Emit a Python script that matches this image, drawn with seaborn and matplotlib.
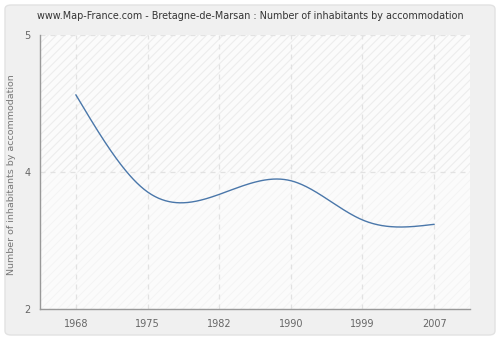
import numpy as np
import pandas as pd
import matplotlib
matplotlib.use("Agg")
import matplotlib.pyplot as plt
import seaborn as sns
from matplotlib.patches import FancyBboxPatch, Rectangle

years = [1968, 1975, 1982, 1990, 1999, 2007]
values = [4.12, 3.34, 3.32, 3.43, 3.115, 3.08]
ytick_pos = [2.4, 3.5, 4.6]
ytick_labels = ["2", "4", "5"]
title = "www.Map-France.com - Bretagne-de-Marsan : Number of inhabitants by accommodation"
ylabel = "Number of inhabitants by accommodation"


def natural_spline(x, y, n=400):
    x = np.asarray(x, float); y = np.asarray(y, float)
    k = len(x)
    h = np.diff(x)
    A = np.zeros((k, k)); b = np.zeros(k)
    A[0, 0] = 1; A[-1, -1] = 1
    for i in range(1, k - 1):
        A[i, i - 1] = h[i - 1]
        A[i, i] = 2 * (h[i - 1] + h[i])
        A[i, i + 1] = h[i]
        b[i] = 3 * ((y[i + 1] - y[i]) / h[i] - (y[i] - y[i - 1]) / h[i - 1])
    c = np.linalg.solve(A, b)
    xs = np.linspace(x[0], x[-1], n)
    ys = np.empty_like(xs)
    for j, xv in enumerate(xs):
        i = min(np.searchsorted(x, xv, side="right") - 1, k - 2)
        d = xv - x[i]
        bb = (y[i + 1] - y[i]) / h[i] - h[i] * (2 * c[i] + c[i + 1]) / 3
        dd = (c[i + 1] - c[i]) / (3 * h[i])
        ys[j] = y[i] + bb * d + c[i] * d ** 2 + dd * d ** 3
    return xs, ys


sns.set_style("white")
plt.rcParams["font.family"] = ["DejaVu Sans"]

fig = plt.figure(figsize=(5, 3.4), dpi=100)
fig.patch.set_facecolor("white")
panel = FancyBboxPatch((5 / 500, 5 / 340), 490 / 500, 330 / 340,
                       boxstyle="round,pad=0,rounding_size=0.012",
                       transform=fig.transFigure, facecolor="#f0f0f0",
                       edgecolor="#e2e2e2", linewidth=1, zorder=-10)
fig.patches.append(panel)

ax = fig.add_axes([40 / 500, 1 - 309 / 340, 430 / 500, 274 / 340])
ax.set_facecolor("#fbfbfb")
idx = np.arange(len(years))
ax.set_xlim(-0.5, len(years) - 0.5)
ax.set_ylim(2.4, 4.6)

# hatch background
plt.rcParams["hatch.linewidth"] = 0.6
ax.add_patch(Rectangle((0, 0), 1, 1, transform=ax.transAxes, facecolor="none",
                       edgecolor="#f3f3f3", hatch="////", linewidth=0, zorder=0))
ax.add_patch(Rectangle((0, 0.5), 1, 0.5, transform=ax.transAxes, facecolor="none",
                       edgecolor="#ececec", hatch="////", linewidth=0, zorder=0))

xs, ys = natural_spline(idx, values)
df = pd.DataFrame({"pos": xs, "value": ys})
sns.lineplot(data=df, x="pos", y="value", ax=ax, color="#4a77aa", linewidth=1.0, zorder=3)

ax.set_xticks(idx)
ax.set_xticklabels([str(y) for y in years])
ax.set_yticks(ytick_pos)
ax.set_yticklabels(ytick_labels)
ax.grid(True, color="#e2e2e2", linestyle=(0, (4, 4)), linewidth=0.9)
ax.set_axisbelow(True)
for s in ["top", "right"]:
    ax.spines[s].set_visible(False)
for s in ["left", "bottom"]:
    ax.spines[s].set_color("#999999")
    ax.spines[s].set_linewidth(1)
ax.tick_params(axis="both", direction="out", length=4, width=1, color="#999999",
               labelcolor="#666666", labelsize=7, pad=3)
ax.set_xlabel("")
ax.set_ylabel(ylabel, color="#777777", fontsize=6.8)
ax.yaxis.set_label_coords(-0.055, 0.49)
fig.text(0.5, 1 - 16 / 340, title, ha="center", va="center", fontsize=6.9, color="#333333")

fig.savefig("out.png", dpi=100)
